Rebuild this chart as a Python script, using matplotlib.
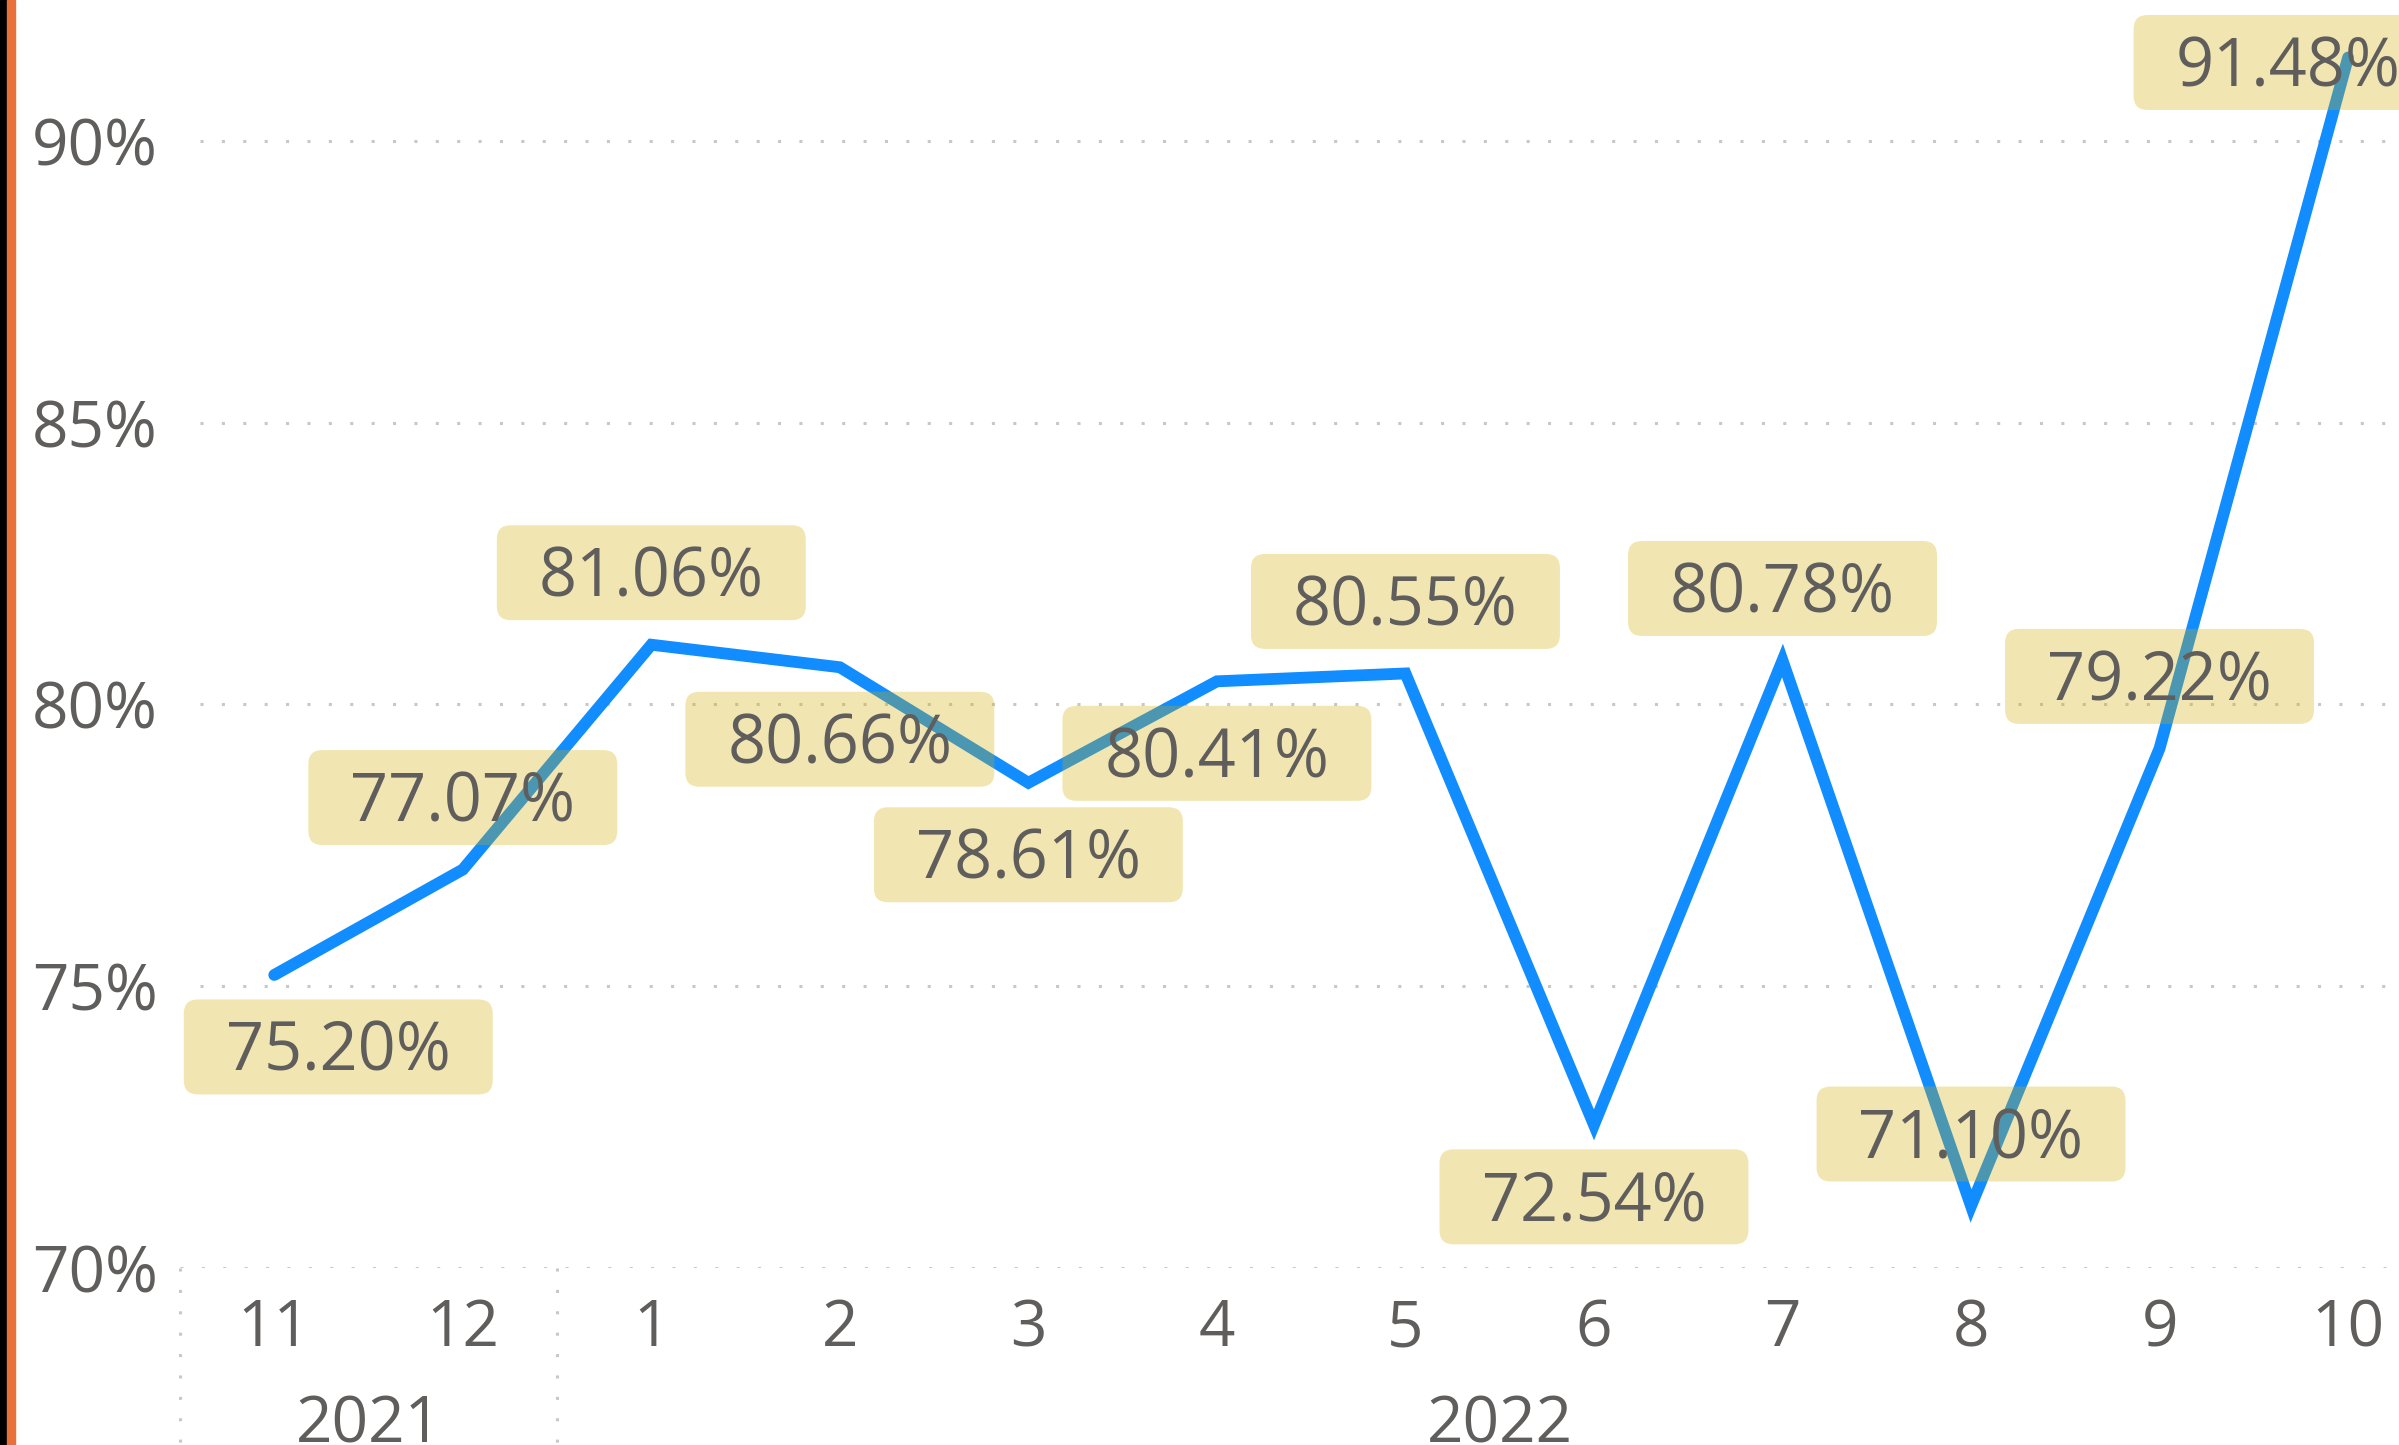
import matplotlib
matplotlib.use("Agg")
import matplotlib.pyplot as plt
from matplotlib.patches import Rectangle, FancyBboxPatch
from matplotlib.transforms import ScaledTranslation

plt.rcParams['font.family'] = ['Open Sans', 'DejaVu Sans']

# data
months = ['11', '12', '1', '2', '3', '4', '5', '6', '7', '8', '9', '10']
years = ['2021', '2021'] + ['2022'] * 10
values = [75.20, 77.07, 81.06, 80.66, 78.61, 80.41, 80.55, 72.54, 80.78, 71.10, 79.22, 91.48]
y_ticks = [70, 75, 80, 85, 90]

# label box offsets from the point, in pixels (dx, dy)
label_offsets = [(64, -72), (0, 72), (0, 72), (0, -72), (0, -72), (0, -72),
                 (0, 72), (0, -72), (0, 72), (0, 72), (0, 72), (-60, -5)]

text_col = '#605E5C'
line_col = '#118DFF'
box_col = (211 / 255, 175 / 255, 0)
grid_col = '#C8C8C8'

W, H = 2399, 1445
fig = plt.figure(figsize=(W / 100, H / 100), dpi=100)
ax = fig.add_axes([180 / W, 177 / H, 2219 / W, 1268 / H])

# left edge strips
fig.patches.append(Rectangle((0, 0), 7 / W, 1, transform=fig.transFigure, color='black', zorder=0))
fig.patches.append(Rectangle((7 / W, 0), 8 / W, 1, transform=fig.transFigure, color='#E8703A', zorder=0))

x = list(range(len(months)))
ax.set_xlim(-0.5, 11.27)
ax.set_ylim(70, 92.5)

# dotted gridlines
for yv in y_ticks:
    ax.axhline(yv, xmin=0 if yv == 70 else 20 / 2219, color=grid_col, lw=2.2,
               ls=(0, (1, 6)), zorder=1)

ax.plot(x, values, color=line_col, lw=8.5, solid_capstyle='round',
        solid_joinstyle='miter', zorder=3)

# data labels: translucent box over the line, text on top
bw, bh = 3.09, 0.95  # inches
for i, v in enumerate(values):
    dx, dy = label_offsets[i][0] / 100, label_offsets[i][1] / 100
    tr = fig.dpi_scale_trans + ScaledTranslation(i, v, ax.transData)
    box = FancyBboxPatch((dx - bw / 2, dy - bh / 2), bw, bh,
                         boxstyle='round,pad=0,rounding_size=0.14',
                         transform=tr, fc=box_col, ec='none', alpha=0.3,
                         zorder=4, clip_on=False)
    ax.add_patch(box)
    ax.text(dx, dy - 0.24, f'{v:.2f}%', transform=tr, ha='center', va='baseline',
            fontsize=48, color=text_col, zorder=5, clip_on=False)

ax.set_yticks(y_ticks)
ax.set_yticklabels([f'{v}%' for v in y_ticks])
ax.set_xticks(x)
ax.set_xticklabels(months)
ax.tick_params(axis='y', length=0, pad=16, labelsize=46, labelcolor=text_col)
ax.tick_params(axis='x', length=0, pad=21, labelsize=46, labelcolor=text_col)
for s in ax.spines.values():
    s.set_visible(False)

# year groups
trans = ax.get_xaxis_transform()
for yr in dict.fromkeys(years):
    idx = [i for i, y in enumerate(years) if y == yr]
    ax.text(sum(idx) / len(idx), -0.124, yr, transform=trans, ha='center', va='center',
            fontsize=46, color=text_col, clip_on=False)
    ax.plot([idx[0] - 0.5] * 2, [0, -0.15], transform=trans, clip_on=False,
            color=grid_col, lw=2.2, ls=(0, (1, 6)))

fig.savefig('out.png', dpi=100)
